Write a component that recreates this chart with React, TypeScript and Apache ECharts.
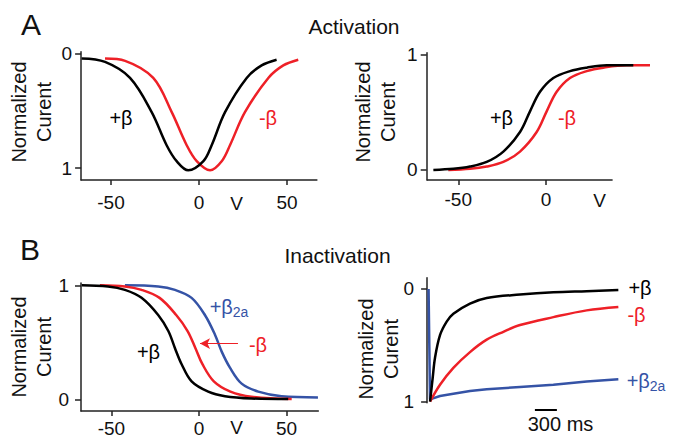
import React, { useEffect, useRef } from "react";
import * as echarts from "echarts";

const FONT = "'Liberation Sans', Arial, Helvetica, sans-serif";
const BLACK = "#000000";
const RED = "#ee2027";
const BLUE = "#3553a6";
const AXIS = "#222222";
const TEXT = "#111111";

// Panel A left: activation I-V (normalized current, inverted), V in mV
const actIVPlusBeta: number[][] = [
  [-66.7, 0.04], [-53.4, 0.07], [-39.2, 0.21], [-26.9, 0.51], [-18.4, 0.8], [-12.7, 0.94],
  [-6.1, 1.02], [2.5, 0.94], [7.2, 0.8], [14.8, 0.51], [27.1, 0.21], [35.6, 0.1], [44.1, 0.05],
];
const actIVMinusBeta: number[][] = [
  [-53.4, 0.04], [-42, 0.06], [-26, 0.21], [-15.5, 0.51], [-7, 0.8], [-1.3, 0.94],
  [6.3, 1.02], [12.9, 0.94], [17.6, 0.8], [26.1, 0.51], [39.4, 0.21], [47.9, 0.1], [56.4, 0.05],
];

// Panel A right: activation conductance
const actGPlusBeta: number[][] = [
  [-64.2, 0.0], [-52.8, 0.01], [-43.3, 0.03], [-33.8, 0.07], [-24.3, 0.16], [-14.8, 0.33],
  [-9.1, 0.51], [-3.4, 0.68], [4.2, 0.8], [13.7, 0.86], [23.2, 0.89], [34.6, 0.91], [49.8, 0.91],
];
const actGMinusBeta: number[][] = [
  [-55.7, 0.0], [-43.3, 0.01], [-33.8, 0.03], [-24.3, 0.07], [-14.8, 0.16], [-5.3, 0.33],
  [0.4, 0.51], [6.1, 0.68], [13.7, 0.8], [23.2, 0.86], [32.7, 0.89], [46, 0.91], [59.3, 0.91],
];

// Panel B left: steady-state inactivation
const inactPlusBeta: number[][] = [
  [-67, 1.0], [-52, 0.99], [-42.3, 0.96], [-32.8, 0.89], [-23.3, 0.74], [-17.5, 0.6],
  [-13.7, 0.45], [-9.9, 0.31], [-4.2, 0.16], [5.3, 0.07], [14.9, 0.03], [30, 0.01], [51, 0.005],
];
const inactMinusBeta: number[][] = [
  [-56.6, 1.0], [-42.3, 0.99], [-32.8, 0.96], [-22.5, 0.89], [-13, 0.74], [-6.5, 0.6],
  [-2, 0.45], [2, 0.31], [8.5, 0.16], [18, 0.07], [30, 0.025], [53, 0.005],
];
const inactPlusBeta2a: number[][] = [
  [-42.3, 1.0], [-23.3, 0.99], [-13.7, 0.96], [-4.2, 0.89], [3.4, 0.74], [9.1, 0.57],
  [13, 0.42], [17.7, 0.28], [24.4, 0.14], [33.9, 0.07], [47.2, 0.03], [68, 0.02],
];

// Panel B right: current time course (ms, normalized, inverted)
const tcPlusBeta: number[][] = [
  [0, 1], [36, 0.79], [68, 0.61], [136, 0.41], [227, 0.29], [318, 0.22], [545, 0.13],
  [773, 0.08], [1227, 0.05], [1682, 0.03], [2136, 0.02], [2568, 0.01],
];
const tcMinusBeta: number[][] = [
  [0, 1], [136, 0.85], [318, 0.7], [545, 0.56], [773, 0.45], [1000, 0.38], [1227, 0.32],
  [1682, 0.25], [2136, 0.19], [2568, 0.16],
];
const tcPlusBeta2a: number[][] = [
  [-20, 0], [0, 0.98], [136, 0.95], [318, 0.93], [545, 0.905], [773, 0.89], [1227, 0.87],
  [1682, 0.85], [2136, 0.82], [2568, 0.8],
];

const voltTicks = [-50, 0, 50];
const voltTicksShort = [-50, 0];
const normTicks = [0, 1];
const scaleBarMs = [1430, 1730];

const lineStyle = { color: AXIS, width: 1.5 };

function xAxisCfg(gridIndex: number, min: number, max: number, ticks: number[], margin: number, showLine: boolean, show = true) {
  return {
    type: "value",
    gridIndex,
    min,
    max,
    show,
    axisLine: { show: showLine, onZero: false, lineStyle },
    axisTick: { show: true, customValues: ticks, length: 5, lineStyle },
    axisLabel: { customValues: ticks, margin, fontSize: 19, color: TEXT, fontFamily: FONT },
    splitLine: { show: false },
  };
}

function yAxisCfg(gridIndex: number, min: number, max: number, inverse: boolean, margin: number) {
  return {
    type: "value",
    gridIndex,
    min,
    max,
    inverse,
    axisLine: { show: true, onZero: false, lineStyle },
    axisTick: { show: true, customValues: normTicks, length: 6, lineStyle },
    axisLabel: { customValues: normTicks, margin, fontSize: 19, color: TEXT, fontFamily: FONT },
    splitLine: { show: false },
  };
}

function curve(data: number[][], color: string, axisIndex: number, smooth: number | boolean = 0.35, extra: any = {}) {
  return {
    type: "line",
    xAxisIndex: axisIndex,
    yAxisIndex: axisIndex,
    data,
    smooth,
    symbol: "none",
    showSymbol: false,
    lineStyle: { color, width: 2.5 },
    itemStyle: { color },
    ...extra,
  };
}

function txt(text: string, x: number, y: number, size: number, color = TEXT, extra: any = {}) {
  return {
    type: "text",
    x,
    y,
    silent: true,
    style: {
      text,
      fill: color,
      fontSize: size,
      fontFamily: FONT,
      textAlign: "center",
      textVerticalAlign: "middle",
      ...extra,
    },
  };
}

function sub(base: string, subText: string, x: number, y: number, color: string) {
  return {
    type: "text",
    x,
    y,
    silent: true,
    style: {
      text: `{a|${base}}{b|${subText}}`,
      fill: color,
      fontFamily: FONT,
      textAlign: "center",
      textVerticalAlign: "middle",
      rich: {
        a: { fontSize: 20, lineHeight: 24, fill: color, fontFamily: FONT },
        b: { fontSize: 14, lineHeight: 14, verticalAlign: "bottom", fill: color, fontFamily: FONT },
      },
    },
  };
}

function yTitle(x: number, y: number) {
  return {
    type: "text",
    x,
    y,
    rotation: Math.PI / 2,
    silent: true,
    style: {
      text: "Normalized\nCurent",
      fill: TEXT,
      fontSize: 20,
      lineHeight: 25,
      fontFamily: FONT,
      textAlign: "center",
      textVerticalAlign: "middle",
    },
  };
}

export default function App() {
  const ref = useRef<HTMLDivElement>(null);
  useEffect(() => {
    document.body.style.margin = "0";
    const chart = echarts.init(ref.current!, null, { renderer: "svg" });
    const option: any = {
      animation: false,
      backgroundColor: "#ffffff",
      grid: [
        { left: 81.1, top: 51.7, width: 235.8, height: 128.3, outerBoundsMode: "none" },
        { left: 426.7, top: 52.7, width: 224.5, height: 127.3, outerBoundsMode: "none" },
        { left: 81, top: 283, width: 237.3, height: 128.1, outerBoundsMode: "none" },
        { left: 427.1, top: 277.7, width: 193.6, height: 125.1, outerBoundsMode: "none" },
      ],
      xAxis: [
        xAxisCfg(0, -67, 67, voltTicks, 13, true),
        xAxisCfg(1, -68, 60, voltTicksShort, 10, false),
        xAxisCfg(2, -67.4, 68.2, voltTicks, 8, true),
        xAxisCfg(3, -40, 2600, [], 8, false, false),
      ],
      yAxis: [
        yAxisCfg(0, -0.02, 1.105, true, 9),
        yAxisCfg(1, -0.087, 1.02, false, 9),
        yAxisCfg(2, -0.1, 1.02, false, 12),
        yAxisCfg(3, -0.1, 1.01, true, 13),
      ],
      series: [
        curve(actIVMinusBeta, RED, 0),
        curve(actIVPlusBeta, BLACK, 0),
        curve(actGMinusBeta, RED, 1),
        curve(actGPlusBeta, BLACK, 1),
        curve(inactPlusBeta2a, BLUE, 2),
        curve(inactMinusBeta, RED, 2, 0.35, {
          markLine: {
            silent: true,
            symbol: ["none", "arrow"],
            symbolSize: [8, 10],
            label: { show: false },
            lineStyle: { color: RED, width: 1, type: "solid" },
            data: [[{ coord: [22.3, 0.49] }, { coord: [0.6, 0.49] }]],
          },
        }),
        curve(inactPlusBeta, BLACK, 2),
        curve(tcPlusBeta2a, BLUE, 3, false),
        curve(tcMinusBeta, RED, 3),
        curve(tcPlusBeta, BLACK, 3),
      ],
    };
    chart.setOption(option);

    const a1 = chart.convertToPixel({ gridIndex: 1 } as any, [-68, -0.087]) as number[];
    const a2 = chart.convertToPixel({ gridIndex: 1 } as any, [38, -0.087]) as number[];
    const s1 = chart.convertToPixel({ gridIndex: 3 } as any, [scaleBarMs[0], 1.074]) as number[];
    const s2 = chart.convertToPixel({ gridIndex: 3 } as any, [scaleBarMs[1], 1.074]) as number[];

    const graphics: any[] = [
      { type: "line", silent: true, shape: { x1: a1[0], y1: a1[1], x2: a2[0], y2: a2[1] }, style: { stroke: AXIS, lineWidth: 1.5 } },
      { type: "line", silent: true, shape: { x1: s1[0], y1: s1[1], x2: s2[0], y2: s2[1] }, style: { stroke: BLACK, lineWidth: 2 } },
      txt("A", 31, 24, 30),
      txt("Activation", 354, 26, 21),
      txt("B", 30, 249, 30),
      txt("Inactivation", 337.5, 255, 21),
      yTitle(31, 112),
      yTitle(375, 112),
      yTitle(31, 347),
      yTitle(378, 349),
      txt("+β", 121, 118, 20, BLACK),
      txt("-β", 268, 118, 20, RED),
      txt("+β", 501.5, 118, 20, BLACK),
      txt("-β", 567, 118, 20, RED),
      txt("+β", 148.5, 352, 20, BLACK),
      txt("-β", 258, 345, 20, RED),
      sub("+β", "2a", 229, 307, BLUE),
      txt("+β", 640, 288, 20, BLACK),
      txt("-β", 636.5, 315, 20, RED),
      sub("+β", "2a", 646, 381, BLUE),
      txt("V", 236.7, 203, 19),
      txt("V", 599.5, 200, 19),
      txt("V", 236.7, 427, 19),
      txt("300 ms", 560.5, 424, 20),
    ];
    chart.setOption({ graphic: graphics });
    return () => chart.dispose();
  }, []);
  return <div ref={ref} style={{ width: 673, height: 442 }} />;
}
